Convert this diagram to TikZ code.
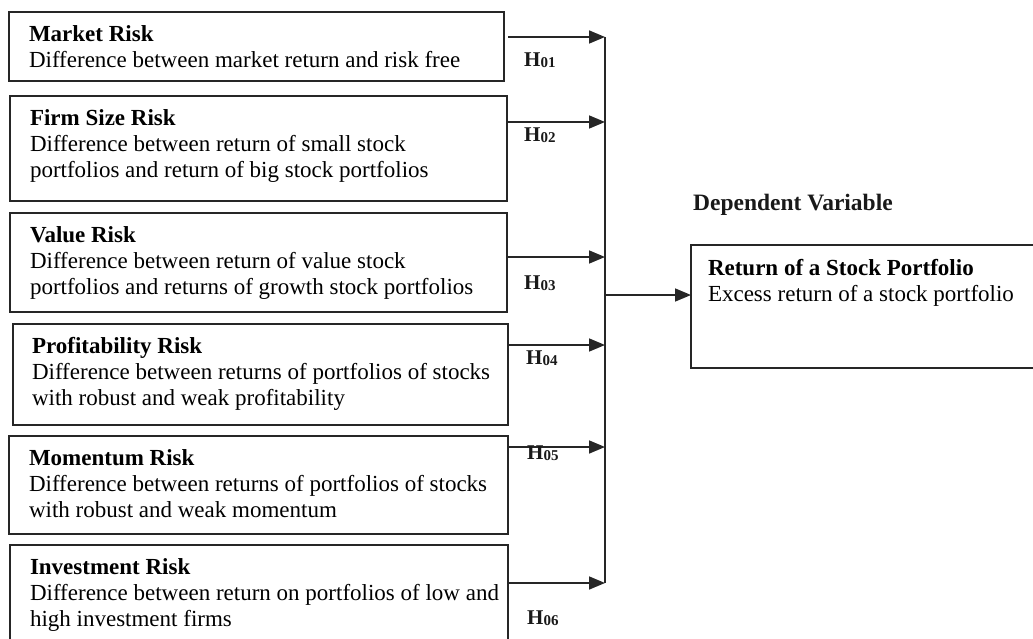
\documentclass[tikz,border=0pt]{standalone}
\usepackage{fontspec}
\setmainfont{Liberation Serif}
\usetikzlibrary{arrows.meta}
\newcommand{\boxtext}[3]{\begin{minipage}[c][#1][t]{#2}\fontsize{23}{26}\selectfont\raggedright\strut #3\end{minipage}}
\newcommand{\hyp}[1]{H\raisebox{-1.5pt}{\fontsize{15}{15}\selectfont\bfseries #1}}
\tikzset{
  boxnode/.style={draw=black!85, line width=1.7pt, inner xsep=20pt, inner ysep=11pt, anchor=north west, outer sep=0pt},
  arr/.style={draw=black!85, line width=1.7pt, -{Triangle[length=16pt,width=13pt]}},
  conn/.style={draw=black!85, line width=1.7pt},
  hlab/.style={anchor=west, inner sep=0pt, text=black!90, font=\fontsize{21}{21}\selectfont\bfseries},
  heading/.style={anchor=west, inner sep=0pt, text=black!90, font=\fontsize{23.5}{26}\selectfont\bfseries}
}
\begin{document}
\begin{tikzpicture}[x=1pt,y=-1pt]
\useasboundingbox (0,0) rectangle (1033,639);
% independent variable boxes
\node[boxnode] (b1) at (9,12) {\boxtext{47pt}{455pt}{\textbf{Market Risk}\\\mbox{Difference between market return and risk free}}};
\node[boxnode] (b2) at (10,96) {\boxtext{83pt}{457pt}{\textbf{Firm Size Risk}\\\mbox{Difference between return of small stock}\\\mbox{portfolios and return of big stock portfolios}}};
\node[boxnode] (b3) at (10,213) {\boxtext{77pt}{457pt}{\textbf{Value Risk}\\\mbox{Difference between return of value stock}\\\mbox{portfolios and returns of growth stock portfolios}}};
\node[boxnode, inner xsep=19pt] (b4) at (13,324) {\boxtext{79pt}{457pt}{\textbf{Profitability Risk}\\\mbox{Difference between returns of portfolios of stocks}\\\mbox{with robust and weak profitability}}};
\node[boxnode] (b5) at (9,436) {\boxtext{76pt}{459pt}{\textbf{Momentum Risk}\\\mbox{Difference between returns of portfolios of stocks}\\\mbox{with robust and weak momentum}}};
\node[boxnode] (b6) at (10,545) {\boxtext{83pt}{458pt}{\textbf{Investment Risk}\\\mbox{Difference between return on portfolios of low and}\\\mbox{high investment firms}}};
% dependent variable
\node[heading] (dv) at (693,205) {Dependent Variable};
\node[boxnode, inner xsep=17pt, inner ysep=12pt] (out) at (691,245) {\boxtext{99pt}{330pt}{\textbf{Return of a Stock Portfolio}\\\mbox{Excess return of a stock portfolio}}};
% junction points on the collector line
\coordinate (a1) at (605,37);
\coordinate (a2) at (605,122);
\coordinate (a3) at (605,257);
\coordinate (a4) at (605,345);
\coordinate (a5) at (605,447);
\coordinate (a6) at (605,583);
\coordinate (m) at (605,295);
% arrows
\draw[arr] ([xshift=4pt]b1.east |- a1) -- (a1);
\draw[arr] (b2.east |- a2) -- (a2);
\draw[arr] (b3.east |- a3) -- (a3);
\draw[arr] (b4.east |- a4) -- (a4);
\draw[arr] (b5.east |- a5) -- (a5);
\draw[arr] (b6.east |- a6) -- (a6);
\draw[conn] (a1) -- (a6);
\draw[arr] (m) -- (out.west |- m);
% hypothesis labels
\node[hlab] (h1) at (524,60) {\hyp{01}};
\node[hlab] (h2) at (524,135) {\hyp{02}};
\node[hlab] (h3) at (524,283) {\hyp{03}};
\node[hlab] (h4) at (526,358) {\hyp{04}};
\node[hlab] (h5) at (527,453) {\hyp{05}};
\node[hlab] (h6) at (527,618) {\hyp{06}};
\end{tikzpicture}
\end{document}
